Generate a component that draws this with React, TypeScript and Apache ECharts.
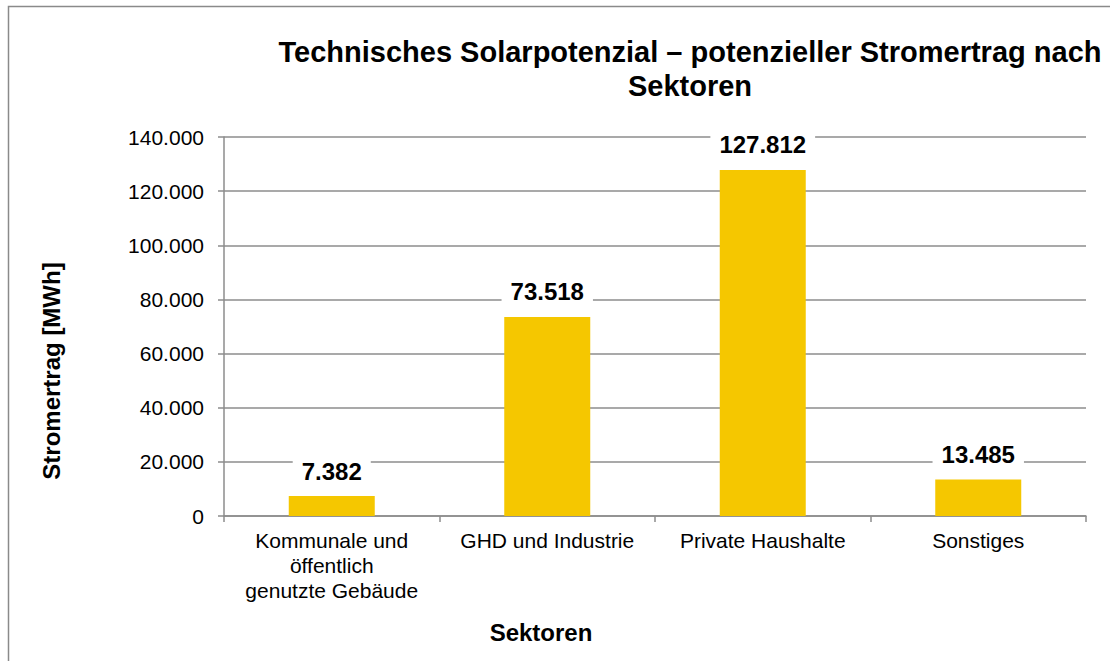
import React, { useEffect, useRef } from "react";
import * as echarts from "echarts";

const categories = [
  "Kommunale und\nöffentlich\ngenutzte Gebäude",
  "GHD und Industrie",
  "Private Haushalte",
  "Sonstiges",
];
const values = [7382, 73518, 127812, 13485];
const yTicks = { min: 0, max: 140000, interval: 20000 };

const titleLines = ["Technisches Solarpotenzial – potenzieller Stromertrag nach", "Sektoren"];
const yName = "Stromertrag [MWh]";
const xName = "Sektoren";

const FONT = "'Liberation Sans', Arial, sans-serif";
const GRID = "#8c8c8c";

const de = (v: number) => String(Math.round(v)).replace(/\B(?=(\d{3})+(?!\d))/g, ".");

export default function App() {
  const ref = useRef<HTMLDivElement>(null);
  useEffect(() => {
    if (!ref.current) return;
    const chart = echarts.init(ref.current, undefined, { renderer: "svg" });
    chart.setOption({
      animation: false,
      backgroundColor: "#fff",
      textStyle: { fontFamily: FONT },
      grid: { left: 224, right: 24, top: 137, bottom: 145, containLabel: false },
      xAxis: {
        type: "category",
        data: categories,
        axisLine: { show: true, lineStyle: { color: GRID, width: 1.5 } },
        axisTick: { show: true, alignWithLabel: false, length: 6, lineStyle: { color: GRID, width: 1.5 } },
        axisLabel: { color: "#000", fontSize: 21, fontFamily: FONT, margin: 12, lineHeight: 25, interval: 0 },
        splitLine: { show: false },
      },
      yAxis: {
        type: "value",
        min: yTicks.min,
        max: yTicks.max,
        interval: yTicks.interval,
        axisLine: { show: true, lineStyle: { color: GRID, width: 1.5 } },
        axisTick: { show: true, length: 6, lineStyle: { color: GRID, width: 1.5 } },
        axisLabel: { color: "#000", fontSize: 21, fontFamily: FONT, margin: 20, formatter: (v: number) => de(v) },
        splitLine: { show: true, lineStyle: { color: GRID, width: 1.5 } },
      },
      series: [
        {
          type: "bar",
          data: values,
          barWidth: 86,
          itemStyle: { color: "#F5C700" },
          label: {
            show: true,
            position: "top",
            distance: 11,
            formatter: (p: any) => de(p.value),
            color: "#000",
            fontWeight: "bold",
            fontSize: 24,
            fontFamily: FONT,
            backgroundColor: "#fff",
            padding: [2, 9],
          },
        },
      ],
      graphic: [
        {
          type: "rect",
          shape: { x: 8.5, y: 6.5, width: 1130, height: 700 },
          style: { fill: "none", stroke: "#8a8a8a", lineWidth: 1.5 },
          silent: true,
          z: 10,
        },
        {
          type: "text",
          x: 690,
          y: 52,
          style: { text: titleLines[0], fill: "#000", font: `bold 29px ${FONT}`, textAlign: "center", textVerticalAlign: "middle" },
        },
        {
          type: "text",
          x: 690,
          y: 86,
          style: { text: titleLines[1], fill: "#000", font: `bold 29px ${FONT}`, textAlign: "center", textVerticalAlign: "middle" },
        },
        {
          type: "text",
          x: 51,
          y: 371,
          rotation: Math.PI / 2,
          style: { text: yName, fill: "#000", font: `bold 24px ${FONT}`, textAlign: "center", textVerticalAlign: "middle" },
        },
        {
          type: "text",
          x: 541,
          y: 632,
          style: { text: xName, fill: "#000", font: `bold 24px ${FONT}`, textAlign: "center", textVerticalAlign: "middle" },
        },
      ],
    });
    return () => chart.dispose();
  }, []);
  return (
    <div
      ref={ref}
      style={{ position: "absolute", left: 0, top: 0, width: 1110, height: 661, background: "#fff" }}
    />
  );
}
